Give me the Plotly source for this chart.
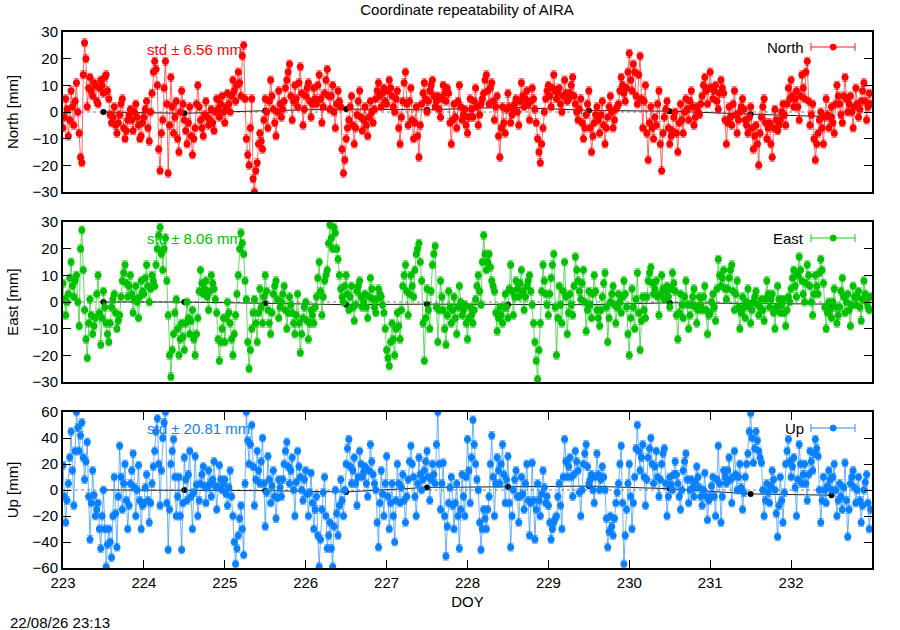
import numpy as np
import plotly.graph_objects as go

# ---------------- data (mm) ----------------
days = [223, 224, 225, 226, 227, 228, 229, 230, 231, 232]

north_by_day = [
    [-6, -2, 5, 1, -9, -3, 8, 2, -5, 4, 11, 0, -8, -17, -19, 14, 26, 20, 2, 9, 13, 8, 6, 11, 10, 4, 3, 9, 12, 10, 7, 13, 14, 8, 5, -1, -4, -2, 2, -5, -8, -4, -1, 3, 5, -6, -10, -7, -3, -1, 1, -3, -7, 0, 3, -2, -5, -10, -9, -4],
    [-2, 1, 4, -6, -11, 0, 7, 15, 19, 16, 10, -14, -22, -8, -3, 9, 19, 3, -23, -5, 13, 2, -8, -2, 4, -10, -15, 0, 8, 3, -3, -7, -12, -4, 2, -9, -16, -10, -6, 3, 10, 2, -3, -6, -9, -1, 4, -2, -5, -3, 1, -4, -7, 0, 5, 1, -2, 3, 6, 0],
    [-4, 2, 7, 3, 0, 6, 12, 8, 4, 10, 15, 11, 6, 21, 25, 5, -10, -16, -20, -6, 5, -25, -30, -22, -19, -12, -8, -11, -14, -3, 5, 0, -6, 4, 12, 6, 1, -4, -9, 0, 8, 3, -2, 1, 4, 9, 12, 15, 18, 6, -3, 4, 10, 5, 2, 11, 17, 7, -5, 1],
    [6, 9, 11, 4, -2, 3, 9, 5, 3, 10, 14, 5, -4, 2, 7, 12, 16, 6, 1, 6, 10, 0, -6, 3, 8, 4, 2, -14, -23, -18, -10, -6, -3, 2, 6, -5, -12, -6, -1, 4, 8, -2, -7, -3, 2, -5, -9, -2, 4, 0, -4, 1, 5, 8, 11, 6, 2, 7, 9, 4],
    [3, 8, 12, 9, 6, 2, 0, 5, 8, -6, -12, -2, 4, 11, 15, 3, -5, 4, 9, -3, -10, -4, 2, -9, -17, -5, 3, 7, 11, 5, 0, 4, 8, 10, 12, 6, 2, 4, 6, 1, -2, 5, 10, 7, 4, 9, 7, -4, -12, -3, 3, -2, -6, 4, 10, 2, -3, -1, 1, -5],
    [-8, -2, 5, 1, -2, 4, 9, 2, -5, -1, 3, 5, 7, 12, 14, 8, 3, 9, 11, 4, -3, 2, 6, -9, -17, -6, 2, -4, -8, 1, 7, 2, -4, -1, 1, 3, 5, 0, -5, 4, 11, 6, 2, 5, 8, 3, -3, 4, 9, 5, 1, -4, -10, -15, -19, -12, -6, 0, 5, 8],
    [10, 6, 2, 9, 14, 8, 5, 7, 9, 3, 0, 6, 12, 7, 4, 5, 7, 10, 13, 6, 3, 0, -3, 1, 5, -4, -10, -6, -1, 3, 8, -6, -15, -9, -4, -1, 2, -3, -8, -1, 4, -5, -12, -6, -2, 2, 6, 0, -6, -3, 1, 2, 3, 8, 13, 10, 7, 4, 9, 15],
    [22, 12, 8, 18, 15, 6, 3, 14, 21, 5, -6, 4, 10, -8, -18, -4, 2, -6, -10, -2, -5, 3, 8, -12, -22, -8, -2, 1, 4, -6, -12, -9, -7, -2, 0, -8, -15, -4, 3, -3, -8, 0, 5, 1, -3, 4, 8, 2, -5, -2, 2, 0, -1, 3, 6, 10, 13, 8, 3, 9],
    [15, 9, 5, 8, 10, 4, 1, 7, 12, 9, 7, -3, -12, -4, 2, -2, -5, 3, 8, -1, -8, -3, 0, 2, 5, 1, -3, -5, -8, -2, 2, -6, -14, -9, -5, -12, -20, -8, -2, 2, 5, -4, -10, -6, -4, -12, -17, -6, 1, -3, -7, -5, -3, 0, 3, -1, -5, 3, 9, 5],
    [12, 6, 2, 5, 8, 2, -3, 6, 14, 9, 5, 15, 19, 4, -5, -1, 3, -10, -18, -12, -8, -3, 0, -6, -12, -2, 5, -1, -6, -2, 2, -4, -8, 3, 10, 6, 3, -1, -4, 6, 13, 5, 0, 3, 6, 0, -6, 2, 9, 3, -2, 1, 4, 8, 11, 4, -3, 2, 7, 3],
]

east_by_day = [
    [7, 1, -5, 0, 3, 9, 15, 6, 2, 8, 10, 0, -9, 20, 27, 12, -3, -14, -21, -8, 1, -5, -12, -9, -6, 3, 10, -4, -16, -6, 4, -2, -8, -12, -15, -8, -2, 1, 3, -4, -10, -7, -5, 2, 8, 11, 14, 7, 2, 6, 10, 3, -4, 1, 6, 0, -6, 2, 8, 4],
    [3, 9, 14, 6, 0, 5, 10, 8, 6, 14, 20, 25, 28, 18, 12, 20, 24, 8, -5, -20, -28, -18, -12, -4, 1, -10, -20, -14, -8, -13, -18, -8, 0, -6, -12, -7, -3, -14, -20, -12, -6, 4, 12, 7, 3, 5, 8, 2, -3, 4, 10, 7, 5, 1, -4, -14, -22, -15, -10, -6],
    [-15, -6, 0, -4, -8, -14, -20, -12, -5, 3, 10, 20, 26, 22, 18, 8, 1, -15, -25, -18, -10, -4, 1, -8, -15, -4, 5, -2, -8, 2, 10, 4, -3, -8, -12, -4, 3, 6, 8, 1, -6, -2, 0, 3, 6, -3, -10, -4, 2, -1, -4, -8, -12, -5, 3, -8, -19, -12, -6, -2],
    [0, -7, -14, -8, -3, -5, -8, -2, 2, 9, 15, 4, -5, 2, 8, 10, 12, 22, 29, 24, 20, 28, 26, 20, 16, 10, 5, 2, 0, 6, 10, 3, -3, 2, 6, -2, -7, -1, 4, 6, 8, 2, -2, 0, 3, -2, -6, 2, 9, 5, 1, -2, -4, 1, 5, 3, 2, -1, -4, -10],
    [-18, -21, -24, -15, -8, -14, -20, -10, -4, -9, -14, -3, 6, 10, 14, 4, -5, 3, 10, 6, 2, 12, 18, 20, 22, 15, 8, -8, -22, -6, 5, -3, -10, 4, 14, 18, 21, -2, -15, -3, 8, 2, -3, -10, -16, -5, 4, -2, -8, -3, 2, -6, -12, -2, 6, 0, -5, -3, -1, -8],
    [-14, -6, -2, -5, -8, -3, 1, 6, 10, 4, -1, 15, 25, 18, 12, 15, 18, 13, 8, 6, 4, -4, -11, -6, -2, -5, -8, -2, 3, -2, -6, 5, 14, 4, -5, 2, 8, 5, 2, 7, 12, 4, -3, 2, 6, 8, 10, 4, -1, -8, -15, -22, -29, -18, -8, 4, 14, 8, 3, -1],
    [-5, 3, 9, 14, 18, -2, -20, -6, 6, -1, -8, 4, 15, 2, -12, -4, 3, -1, -5, 6, 17, 12, 8, 4, 1, 7, 12, 0, -11, -3, 4, -1, -6, 3, 10, 4, -3, -6, -9, -3, 2, 7, 11, -2, -15, -6, 0, 3, 6, -1, -8, -2, 3, 0, -4, 2, 8, 3, -2, -12],
    [-20, -6, 5, -2, -10, 1, 11, -4, -18, -7, 2, -3, -6, 2, 8, 11, 13, 7, 3, 5, 8, 2, -5, 3, 10, 5, 1, 4, 6, 2, -2, 5, 11, 7, 4, -5, -14, -4, 3, -1, -6, 2, 8, -1, -10, -5, -1, 2, 5, -2, -8, -3, 2, -1, -3, 2, 6, -3, -12, -5],
    [-4, 0, 3, -2, -7, 5, 16, 10, 6, 9, 12, 5, 1, 5, 9, 12, 14, 4, -3, 3, 8, -2, -10, -4, 2, -2, -6, 0, 5, -2, -8, -3, 0, 2, 4, -1, -5, -2, 1, -3, -7, 1, 8, 3, -2, 1, 3, -4, -10, -2, 6, 1, -4, -1, 1, -4, -9, -3, 2, 0],
    [5, 9, 12, 6, 2, 10, 17, 12, 8, 3, 0, 7, 14, 10, 6, 0, -5, 3, 10, 6, 3, 11, 16, 12, 7, -2, -10, -4, 0, -3, -6, 0, 5, -2, -8, -5, -2, 4, 9, 2, -4, 0, 3, -3, -9, -1, 6, 2, -1, 2, 4, -2, -7, 1, 8, 3, 0, -2, -3, 2],
]

up_by_day = [
    [19, -5, -25, -8, 5, 25, 45, 15, -12, 30, 60, 48, 30, 42, 52, 25, 8, 22, 37, -5, -38, -10, 15, -4, -20, -15, -10, -30, -45, -20, 0, -30, -59, -42, -30, -40, -52, -20, 10, -18, -44, -5, 34, 10, -15, 5, 20, -8, -30, -12, 5, 15, 28, 2, -20, 0, 19, -8, -30, -12],
    [-10, 2, 12, -8, -25, -10, 5, 18, 30, 45, 55, 20, -12, 15, 40, 52, 60, -10, -46, -15, 20, 30, 39, 10, -20, -5, 10, -20, -46, -10, 25, 8, -8, 12, 30, -5, -30, -2, 26, 4, -20, -8, 5, 12, 18, 3, -10, 2, 15, 5, -5, 8, 22, 3, -15, 2, 19, 8, 0, 5],
    [8, -3, -12, 2, 15, -5, -20, -40, -57, -45, -35, -22, -12, -30, -50, 5, 60, 38, 20, 35, 50, 18, -12, 8, 30, 15, 5, 22, 40, 5, -28, -2, 26, 8, -10, 3, 15, -5, -22, -6, 8, 2, -5, 8, 20, 30, 37, 18, 5, 15, 25, 0, -20, 6, 30, 18, 10, 0, -8, 8],
    [15, -3, -20, -2, 13, -10, -30, -15, -5, -35, -59, -38, -15, -2, 10, -20, -45, -35, -25, -45, -59, -28, 0, -18, -35, -12, 8, -8, -20, 0, 20, 32, 39, 18, 5, 15, 25, 5, -12, 10, 30, 20, 10, 14, 18, 5, -5, 15, 35, 22, 12, 5, 0, -25, -44, -10, 15, -3, -20, 5],
    [26, -5, -30, -10, 5, -20, -40, -8, 20, 5, -10, 2, 12, -8, -25, -5, 8, 22, 34, 20, 10, -5, -20, 5, 25, 12, 0, 8, 15, 22, 30, 10, -8, 8, 20, 12, 5, 35, 60, 20, -15, 5, 21, -20, -51, -28, -10, 2, 10, -12, -30, -10, 5, -20, -45, -15, 12, -5, -20, 10],
    [39, 15, -10, 25, 54, 35, 20, 8, 0, -25, -46, -30, -15, -22, -30, -15, -5, 20, 42, 10, -20, 5, 25, 15, 5, 20, 35, 12, -10, 8, 26, -10, -44, -20, 0, 8, 15, -5, -25, -5, 10, -3, -15, 5, 20, -8, -35, -10, 21, -8, -38, -15, 5, -8, -20, -3, 15, 2, -10, -5],
    [-12, -25, -38, -30, -25, -22, -20, -5, 5, -12, -30, 10, 39, 22, 10, 18, 25, 10, -5, 12, 30, 22, 15, -2, -20, 0, 20, 28, 35, 18, 5, 8, 12, 0, -10, 10, 28, 12, 0, 8, 18, 10, 0, -22, -44, -32, -20, -28, -35, -22, -10, -2, 5, 20, 34, -10, -57, -35, -15, 5],
    [20, -5, -30, -10, 10, 32, 50, 30, 15, 25, 35, 10, -12, 8, 25, 32, 40, 20, 5, 18, 30, 10, -5, 8, 20, 28, 32, 5, -20, -5, 10, 4, 0, 12, 22, 12, 5, -5, -15, 0, 15, 22, 28, 8, -10, 0, 8, 2, -5, 6, 18, 10, 2, -5, -12, 0, 13, -5, -23, -8],
    [-5, 3, 10, -5, -20, 8, 34, 5, -25, -5, 15, 10, 5, 15, 25, 8, -10, 10, 30, 12, 0, 10, 20, 2, -15, -2, 10, 20, 28, 45, 59, 40, 21, 32, 45, 38, 30, 25, 21, 0, -20, -8, 5, -2, -10, 3, 15, 8, 0, -18, -36, -12, 10, -8, -25, -2, 20, 30, 39, 22],
    [10, 18, 25, 2, -20, 8, 35, 20, 5, 12, 20, 5, -8, 12, 30, 22, 15, 28, 39, 32, 26, 0, -25, -8, 10, 0, -10, 3, 15, 8, 0, 10, 20, 0, -20, -8, 5, -5, -15, 2, 21, -8, -36, -15, 5, 10, 15, 2, -10, 0, 10, -8, -25, -12, 0, 6, 12, -10, -30, -15],
]

# daily solutions (black line)
daily_doy = [223.5, 224.5, 225.5, 226.5, 227.5, 228.5, 229.5, 230.5, 231.5, 232.5]
north_daily = [0.0, -0.5, 0.5, 1.1, 0.8, 1.8, 0.6, 0.3, -0.8, -1.8]
east_daily = [0.0, 0.0, -0.5, -1.0, -0.8, -1.0, -1.0, -0.3, -0.5, -0.8]
up_daily = [0.0, 0.0, -0.5, -1.5, 2.0, 2.5, 3.0, 1.0, -3.0, -4.0]

err_mm = [1.5, 1.5, 3.0]
std_text = ["std \u00b1 6.56 mm", "std \u00b1 8.06 mm", "std \u00b1 20.81 mm"]
names = ["North", "East", "Up"]
ylabels = ["North [mm]", "East [mm]", "Up [mm]"]
xticks = [223, 224, 225, 226, 227, 228, 229, 230, 231, 232]
title = "Coordinate repeatability of AIRA"
stamp = "22/08/26 23:13"


def series(by_day):
    t, v = [], []
    for d, vals in zip(days, by_day):
        n = len(vals)
        t.extend(list(d + np.arange(n) / n))
        v.extend(vals)
    return t, v


colors = ["#ff0000", "#00c000", "#0a80ff"]
light = ["rgba(255,0,0,0.6)", "rgba(0,192,0,0.6)", "rgba(10,128,255,0.6)"]
FONT = "Liberation Sans, Arial, Helvetica, sans-serif"
FS = 15

fig = go.Figure()
panels = [north_by_day, east_by_day, up_by_day]
dailies = [north_daily, east_daily, up_daily]
ranges = [[-30, 30], [-30, 30], [-60, 60]]
dticks = [10, 10, 20]
domains = [[0.7015, 1.0], [0.347, 0.6455], [0.0, 0.291]]

for i in range(3):
    xa = "x" if i == 0 else f"x{i+1}"
    ya = "y" if i == 0 else f"y{i+1}"
    fig.add_trace(go.Scatter(x=[223, 233], y=[0, 0], mode="lines",
                             line=dict(color="#808080", width=1, dash="dot"),
                             xaxis=xa, yaxis=ya, showlegend=False, hoverinfo="skip"))
    fig.add_trace(go.Scatter(x=daily_doy, y=dailies[i], mode="lines+markers",
                             line=dict(color="#202020", width=1),
                             marker=dict(color="black", size=6),
                             xaxis=xa, yaxis=ya, showlegend=False))
    t, v = series(panels[i])
    fig.add_trace(go.Scatter(
        x=t, y=v, mode="lines+markers", name=names[i],
        line=dict(color=light[i], width=1),
        marker=dict(color=colors[i], size=7, symbol="circle", line=dict(width=0)),
        error_y=dict(type="constant", value=err_mm[i], color=light[i], thickness=1, width=3),
        xaxis=xa, yaxis=ya, showlegend=False))

axis_common = dict(showline=True, linecolor="black", linewidth=2, mirror=True,
                   showgrid=False, zeroline=False,
                   tickfont=dict(family=FONT, size=FS, color="black"))

layout = dict(
    width=900, height=630,
    margin=dict(l=63, r=28, t=32, b=62),
    paper_bgcolor="white", plot_bgcolor="white",
    font=dict(family=FONT, size=FS, color="black"),
    showlegend=False,
    title=dict(text=title, x=467 / 900, xanchor="center", y=1 - 10 / 630, yanchor="middle",
               font=dict(family=FONT, size=FS, color="black")),
)

for i in range(3):
    xk = "xaxis" if i == 0 else f"xaxis{i+1}"
    yk = "yaxis" if i == 0 else f"yaxis{i+1}"
    ya = "y" if i == 0 else f"y{i+1}"
    xa = "x" if i == 0 else f"x{i+1}"
    xd = dict(axis_common, domain=[0, 1], range=[223, 233], anchor=ya)
    if i < 2:
        xd.update(showticklabels=False, ticks="")
    else:
        xd.update(tickvals=xticks, ticks="inside", ticklen=8, tickcolor="black", tickwidth=1,
                  mirror="ticks", title=dict(text="DOY", standoff=6,
                                             font=dict(family=FONT, size=FS, color="black")))
    layout[xk] = xd
    layout[yk] = dict(axis_common, domain=domains[i], range=ranges[i], dtick=dticks[i],
                      ticks="inside", ticklen=8, tickcolor="black", tickwidth=1,
                      mirror="ticks", anchor=xa,
                      title=dict(text=ylabels[i], standoff=10,
                                 font=dict(family=FONT, size=FS, color="black")))

fig.update_layout(**layout)

leg_y = [0.906, 0.9, 0.897]
std_y = [0.8875, 0.894, 0.897]
shapes = []
for i in range(3):
    xr = "x domain" if i == 0 else f"x{i+1} domain"
    yr = "y domain" if i == 0 else f"y{i+1} domain"
    fig.add_annotation(xref=xr, yref=yr, x=0.101, y=std_y[i], text=std_text[i],
                       showarrow=False, xanchor="left", yanchor="middle",
                       font=dict(family=FONT, size=FS, color=colors[i]))
    fig.add_annotation(xref=xr, yref=yr, x=0.918, y=leg_y[i], text=names[i],
                       showarrow=False, xanchor="right", yanchor="middle",
                       font=dict(family=FONT, size=FS, color="black"))
    x0, x1, xm = 0.9246, 0.979, 0.952
    ph = 160 if i < 2 else 156
    cap = 4 / ph
    shapes.append(dict(type="line", xref=xr, yref=yr, x0=x0, x1=x1, y0=leg_y[i], y1=leg_y[i],
                       line=dict(color=light[i], width=1.5)))
    for xc in (x0, x1):
        shapes.append(dict(type="line", xref=xr, yref=yr, x0=xc, x1=xc,
                           y0=leg_y[i] - cap, y1=leg_y[i] + cap, line=dict(color=light[i], width=1.5)))
    rx, ry = 3 / 809, 3 / ph
    shapes.append(dict(type="circle", xref=xr, yref=yr, x0=xm - rx, x1=xm + rx,
                       y0=leg_y[i] - ry, y1=leg_y[i] + ry,
                       fillcolor=colors[i], line=dict(color=colors[i], width=1)))

fig.update_layout(shapes=shapes)

fig.add_annotation(xref="paper", yref="paper", x=(8 - 63) / 809, y=(568 - 622) / 536,
                   text=stamp, showarrow=False, xanchor="left", yanchor="middle",
                   font=dict(family=FONT, size=FS, color="black"))

fig.write_html("out.html", config={"displayModeBar": False},
               post_script="document.body.style.margin='0px';")
